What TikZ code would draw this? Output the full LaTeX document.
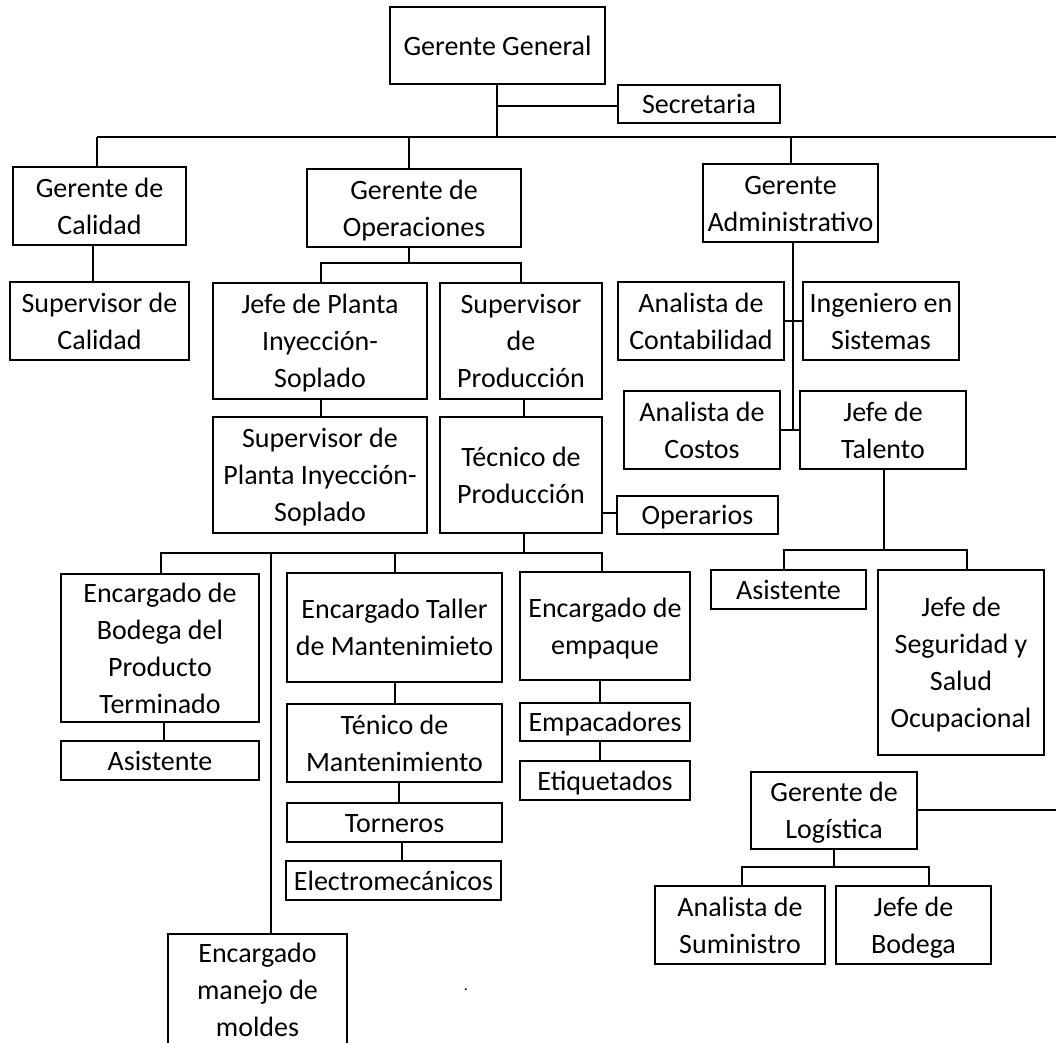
\documentclass[tikz,border=0pt]{standalone}
\usepackage{fontspec}
\setmainfont{Carlito}
\newcommand\lstrut{\rule[-6.75pt]{0pt}{27.75pt}}
\tikzset{
  box/.style={draw, line width=1.1pt, inner sep=0pt, align=center,
    font=\fontsize{21}{27.75}\selectfont},
  conn/.style={line width=1.1pt}
}
\newcommand\bx[6]{%
  \node[box, minimum width={(#4-#2)*0.75pt}, minimum height={(#5-#3)*0.75pt}]
    (#1) at ({(#2+#4)/2},{(#3+#5)/2}) {\lstrut#6\lstrut};}
\begin{document}
\begin{tikzpicture}[x=0.75pt,y=-0.75pt]
\useasboundingbox (0,0) rectangle (1056,1042);
% nodes
\bx{gg}{390}{7}{605}{84}{Gerente General}
\bx{sec}{618}{85}{780}{123}{Secretaria}
\bx{gc}{13}{167}{186}{245}{Gerente de\\Calidad}
\bx{sc}{10}{282}{189}{360}{Supervisor de\\Calidad}
\bx{go}{307}{169}{521}{247}{Gerente de\\Operaciones}
\bx{jp}{213}{283}{427}{399}{Jefe de Planta\\Inyección-\\Soplado}
\bx{sp}{440}{283}{602}{399}{Supervisor\\de\\Producción}
\bx{spi}{213}{417}{427}{533}{Supervisor de\\Planta Inyección-\\Soplado}
\bx{tp}{440}{417}{602}{533}{Técnico de\\Producción}
\bx{op}{617}{496}{778}{534}{Operarios}
\bx{eb}{61}{574}{259}{722}{Encargado de\\Bodega del\\Producto\\Terminado}
\bx{asa}{61}{741}{259}{780}{Asistente}
\bx{et}{287}{573}{502}{682}{Encargado Taller\\de Mantenimieto}
\bx{tm}{287}{704}{502}{782}{Ténico de\\Mantenimiento}
\bx{to}{287}{803}{502}{842}{Torneros}
\bx{el}{286}{861}{501}{900}{Electromecánicos}
\bx{ee}{520}{572}{690}{680}{Encargado de\\empaque}
\bx{emp}{520}{703}{690}{741}{Empacadores}
\bx{eti}{520}{761}{690}{800}{Etiquetados}
\bx{mm}{168}{934}{347}{1045}{Encargado\\manejo de\\moldes}
\bx{ga}{703}{164}{878}{242}{Gerente\\Administrativo}
\bx{ac}{618}{282}{784}{360}{Analista de\\Contabilidad}
\bx{is}{803}{282}{959}{360}{Ingeniero en\\Sistemas}
\bx{aco}{624}{391}{780}{469}{Analista de\\Costos}
\bx{jt}{800}{391}{966}{469}{Jefe de\\Talento}
\bx{asb}{711}{570}{866}{609}{Asistente}
\bx{js}{878}{570}{1044}{755}{Jefe de\\Seguridad y\\Salud\\Ocupacional}
\bx{gl}{751}{772}{917}{849}{Gerente de\\Logística}
\bx{asu}{655}{886}{825}{964}{Analista de\\Suministro}
\bx{jb}{836}{886}{991}{964}{Jefe de\\Bodega}
\node[inner sep=0pt, font=\fontsize{12}{12}\selectfont] (dot) at (466,990) {.};
% coordinates (connector bends and taps)
\coordinate (busL) at (97,137);
\coordinate (busR) at (1056,137);
\coordinate (b0) at (497,137);
\coordinate (s0) at (497,106);
\coordinate (b2) at (409,137);
\coordinate (b3) at (791,137);
\coordinate (cq) at (93,245);
\coordinate (ob) at (409,263);
\coordinate (oL) at (321,263);
\coordinate (oR) at (521,263);
\coordinate (xj) at (321,0);
\coordinate (xs) at (524,0);
\coordinate (tb) at (524,553);
\coordinate (tL) at (161,553);
\coordinate (tR) at (602,553);
\coordinate (xt) at (395,553);
\coordinate (mt) at (271,553);
\coordinate (xa) at (164,0);
\coordinate (x1) at (395,0);
\coordinate (x2) at (399,0);
\coordinate (x3) at (402,0);
\coordinate (xe) at (600,0);
\coordinate (yo) at (0,513);
\coordinate (jtb) at (884,550);
\coordinate (jL) at (784,550);
\coordinate (jR) at (967,550);
\coordinate (glb) at (834,867);
\coordinate (gL) at (742,867);
\coordinate (gR) at (929,867);
\coordinate (logR) at (1056,810);
\coordinate (gv) at (793,242);
% connectors
\draw[conn] (gg.south -| b0) -- (b0);
\draw[conn] (s0) -- (s0 -| sec.west);
\draw[conn] (busL) -- (busR);
\draw[conn] (busL) -- (busL |- gc.north);
\draw[conn] (b2) -- (b2 |- go.north);
\draw[conn] (b3) -- (b3 |- ga.north);
\draw[conn] (cq) -- (cq |- sc.north);
\draw[conn] (go.south -| ob) -- (ob);
\draw[conn] (oL |- jp.north) -- (oL) -- (oR) -- (oR |- sp.north);
\draw[conn] (xj |- jp.south) -- (xj |- spi.north);
\draw[conn] (xs |- sp.south) -- (xs |- tp.north);
\draw[conn] (tp.east |- yo) -- (op.west |- yo);
\draw[conn] (tp.south -| tb) -- (tb);
\draw[conn] (tL |- eb.north) -- (tL) -- (tR) -- (tR |- ee.north);
\draw[conn] (xt) -- (xt |- et.north);
\draw[conn] (mt) -- (mt |- mm.north);
\draw[conn] (xa |- eb.south) -- (xa |- asa.north);
\draw[conn] (x1 |- et.south) -- (x1 |- tm.north);
\draw[conn] (x2 |- tm.south) -- (x2 |- to.north);
\draw[conn] (x3 |- to.south) -- (x3 |- el.north);
\draw[conn] (xe |- ee.south) -- (xe |- emp.north);
\draw[conn] (xe |- emp.south) -- (xe |- eti.north);
\draw[conn] (gv) -- (gv |- aco.east);
\draw[conn] (ac.east) -- (is.west);
\draw[conn] (aco.east) -- (jt.west);
\draw[conn] (jt.south -| jtb) -- (jtb);
\draw[conn] (jL |- asb.north) -- (jL) -- (jR) -- (jR |- js.north);
\draw[conn] (gl.east |- logR) -- (logR);
\draw[conn] (gl.south -| glb) -- (glb);
\draw[conn] (gL |- asu.north) -- (gL) -- (gR) -- (gR |- jb.north);
\end{tikzpicture}
\end{document}
